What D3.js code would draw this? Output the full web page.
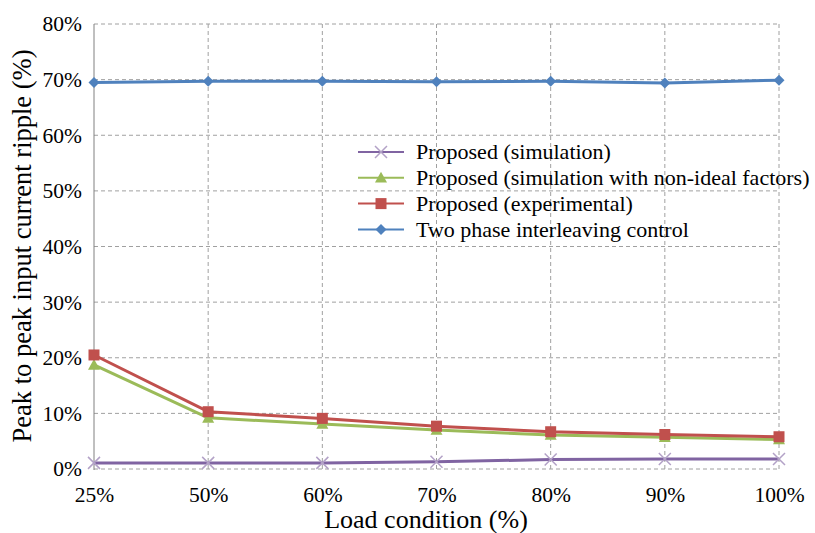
<!DOCTYPE html>
<html>
<head>
<meta charset="utf-8">
<script src="https://cdn.jsdelivr.net/npm/d3@7"></script>
<style>
  html, body { margin: 0; padding: 0; background: #fff; }
  svg text { font-family: 'Liberation Serif', 'Times New Roman', 'DejaVu Serif', serif !important; }
</style>
</head>
<body>
<svg id="chart" width="815" height="533"></svg>
<script>
// Load conditions on the x axis
const loads = ["25%", "50%", "60%", "70%", "80%", "90%", "100%"];
// Peak-to-peak input current ripple (%) for each method
const simulation   = [1.1, 1.1, 1.1, 1.3, 1.7, 1.8, 1.8];
const nonIdeal     = [18.7, 9.2, 8.1, 7.0, 6.1, 5.7, 5.3];
const experimental = [20.5, 10.3, 9.1, 7.7, 6.7, 6.2, 5.8];
const interleaving = [69.5, 69.7, 69.7, 69.6, 69.7, 69.4, 69.9];
const yTicks = [0, 10, 20, 30, 40, 50, 60, 70, 80];

const seriesList = [
  { name: "Proposed (simulation)", values: simulation, color: "#8064A2", marker: "x" },
  { name: "Proposed (simulation with non-ideal factors)", values: nonIdeal, color: "#9BBB59", marker: "triangle" },
  { name: "Proposed (experimental)", values: experimental, color: "#C0504D", marker: "square" },
  { name: "Two phase interleaving control", values: interleaving, color: "#4F81BD", marker: "diamond" }
];

const svg = d3.select("#chart");
const margin = { left: 94, right: 36, top: 24, bottom: 64 };
const W = 815, H = 533;

const x = d3.scalePoint().domain(loads).range([margin.left, W - margin.right]).padding(0);
const y = d3.scaleLinear().domain([0, 80]).range([H - margin.bottom, margin.top]);

const grid = svg.append("g");
// horizontal gridlines
grid.selectAll("line.h").data(yTicks).join("line")
  .attr("x1", margin.left).attr("x2", W - margin.right)
  .attr("y1", d => y(d)).attr("y2", d => y(d))
  .attr("stroke", "#a0a0a0").attr("stroke-width", 1).attr("stroke-dasharray", "4,3");
// vertical gridlines
grid.selectAll("line.v").data(loads.slice(1)).join("line")
  .attr("x1", d => x(d)).attr("x2", d => x(d))
  .attr("y1", y(0)).attr("y2", y(80))
  .attr("stroke", "#a0a0a0").attr("stroke-width", 1).attr("stroke-dasharray", "4,3");

// y axis line
svg.append("line")
  .attr("x1", margin.left).attr("x2", margin.left)
  .attr("y1", y(80)).attr("y2", y(0) + 1)
  .attr("stroke", "#808080").attr("stroke-width", 1);

// y tick labels
const yAxis = d3.axisLeft(y).tickValues(yTicks).tickFormat(d => d + "%").tickSize(0).tickPadding(12);
const yg = svg.append("g").attr("transform", `translate(${margin.left},0)`).call(yAxis);
yg.select(".domain").remove();
yg.selectAll("text").attr("font-size", 21.5).attr("fill", "#000");

// x tick labels
const xAxis = d3.axisBottom(x).tickSize(0).tickPadding(18);
const xg = svg.append("g").attr("transform", `translate(0,${y(0)})`).call(xAxis);
xg.select(".domain").remove();
xg.selectAll("text").attr("font-size", 21.5).attr("fill", "#000");

// axis titles
svg.append("text")
  .attr("x", 426).attr("y", 528)
  .attr("text-anchor", "middle").attr("font-size", 26).attr("fill", "#000")
  .text("Load condition (%)");
svg.append("text")
  .attr("transform", `translate(31,246) rotate(-90)`)
  .attr("text-anchor", "middle").attr("font-size", 26.5).attr("fill", "#000")
  .text("Peak to peak input current ripple (%)");

// marker drawing
function drawMarker(g, type, color, cx, cy) {
  if (type === "x") {
    const s = 6;
    g.append("path")
      .attr("d", `M${cx - s},${cy - s}L${cx + s},${cy + s}M${cx - s},${cy + s}L${cx + s},${cy - s}`)
      .attr("stroke", "#B3A2C7").attr("stroke-width", 1.5).attr("fill", "none");
  } else if (type === "triangle") {
    const s = 6;
    g.append("path")
      .attr("d", `M${cx},${cy - s}L${cx + s},${cy + s * 0.8}L${cx - s},${cy + s * 0.8}Z`)
      .attr("fill", color);
  } else if (type === "square") {
    const s = 5.5;
    g.append("rect").attr("x", cx - s).attr("y", cy - s)
      .attr("width", 2 * s).attr("height", 2 * s).attr("fill", color);
  } else if (type === "diamond") {
    const s = 5.5;
    g.append("path")
      .attr("d", `M${cx},${cy - s}L${cx + s},${cy}L${cx},${cy + s}L${cx - s},${cy}Z`)
      .attr("fill", color);
  }
}

const line = d3.line().x((d, i) => x(loads[i])).y(d => y(d));

seriesList.forEach(s => {
  const g = svg.append("g");
  g.append("path").datum(s.values)
    .attr("d", line).attr("fill", "none")
    .attr("stroke", s.color).attr("stroke-width", 3).attr("stroke-linejoin", "round");
  s.values.forEach((v, i) => drawMarker(g, s.marker, s.color, x(loads[i]), y(v)));
});

// legend
const legend = svg.append("g");
const lx0 = 358, lx1 = 404, ly0 = 152, lstep = 25.8;
seriesList.forEach((s, i) => {
  const ly = ly0 + i * lstep;
  legend.append("line").attr("x1", lx0).attr("x2", lx1).attr("y1", ly).attr("y2", ly)
    .attr("stroke", s.color).attr("stroke-width", 2);
  drawMarker(legend, s.marker, s.color, (lx0 + lx1) / 2, ly);
  legend.append("text").attr("x", 416).attr("y", ly).attr("dy", "0.33em")
    .attr("font-size", 22).attr("fill", "#000").text(s.name);
});
</script>
</body>
</html>
